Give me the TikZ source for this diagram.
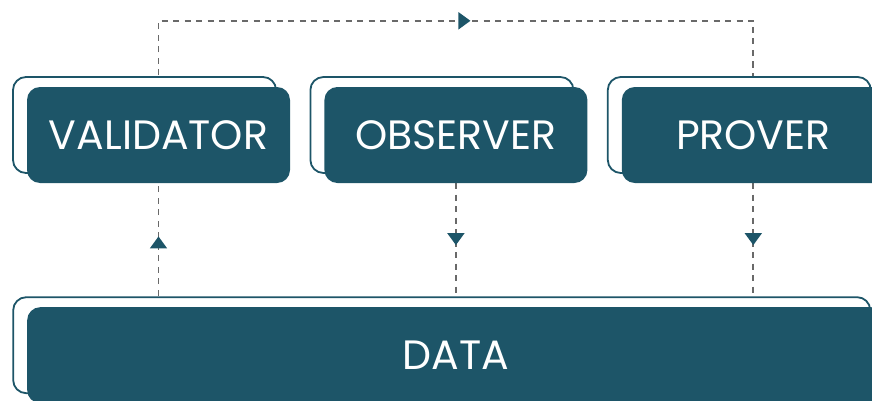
\documentclass[tikz,border=0pt]{standalone}
\usepackage{fontspec}
\setmainfont{Poppins}
\usetikzlibrary{positioning,shadows,arrows.meta,decorations.markings,backgrounds}

\definecolor{layerteal}{RGB}{29,85,104}
\definecolor{flowgray}{RGB}{105,105,105}

\begin{document}
\begin{tikzpicture}[
    x=1pt, y=1pt,
    node distance=34pt,
    layer/.style={
        rectangle,
        rounded corners=13pt,
        fill=layerteal,
        text=white,
        minimum width=263pt,
        minimum height=96pt,
        font=\fontsize{41}{41}\selectfont,
        copy shadow={shadow xshift=-14pt, shadow yshift=10pt,
            fill=white, draw=layerteal, line width=1.8pt}
    },
    flow/.style={
        draw=flowgray,
        line width=1.8pt,
        dash pattern=on 6pt off 5.5pt,
        postaction={decorate},
        decoration={markings,
            mark=at position #1 with {\arrow[layerteal]{Triangle[width=17pt,length=12pt]}}}
    },
    flow/.default=0.5
]
\useasboundingbox (0,0) rectangle (872,400);
\clip (0,0) rectangle (872,400);

% Layers
\node[layer] (validator) at (158.5,265) {VALIDATOR};
\node[layer, right=of validator] (observer) {OBSERVER};
\node[layer, right=of observer] (prover) {PROVER};
\node[layer, minimum width=857pt, anchor=north west] (data) at (27,93) {DATA};

% Connections
\begin{scope}[on background layer]
\draw[flow=0.52] (validator.north) -- ++(0,66) -| (prover.north);
\draw[flow=0.57] (validator.south |- data.north) -- (validator.south);
\draw[flow] (observer.south) -- (observer.south |- data.north);
\draw[flow] (prover.south) -- (prover.south |- data.north);
\end{scope}

\end{tikzpicture}
\end{document}
